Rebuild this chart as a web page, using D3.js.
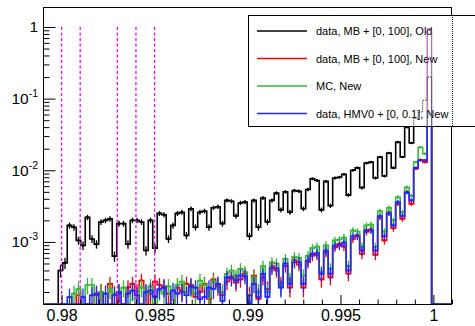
<!DOCTYPE html>
<html><head><meta charset="utf-8">
<script src="https://cdn.jsdelivr.net/npm/d3@7"></script>
<style>body{margin:0;background:#fff}svg{display:block}</style>
</head><body><svg id="c" width="475" height="326"></svg>
<script>
// ---- data ----
const binStart = 0.97982;
const binWidth = 0.000242;
const black = [
 4.0e-4,5.1e-4,1.7e-3,1.6e-3,1.05e-3,8.9e-4,2.2e-3,1.1e-3,9.3e-4,1.9e-3,
 2.0e-3,2.1e-3,6.3e-4,1.8e-3,1.8e-3,9.3e-4,2.0e-3,2.0e-3,1.9e-3,7.6e-4,
 2.0e-3,8.2e-4,2.5e-3,2.4e-3,1.1e-3,1.7e-3,2.5e-3,2.6e-3,1.23e-3,2.9e-3,
 1.6e-3,2.6e-3,2.7e-3,1.6e-3,3.0e-3,3.1e-3,1.8e-3,3.8e-3,3.7e-3,2.3e-3,
 3.5e-3,3.6e-3,1.2e-3,3.8e-3,1.6e-3,4.1e-3,1.9e-3,3.8e-3,4.8e-3,2.8e-3,
 5.0e-3,2.6e-3,5.2e-3,5.1e-3,2.9e-3,5.4e-3,7.6e-3,7.2e-3,2.8e-3,7.0e-3,
 3.2e-3,7.8e-3,8.0e-3,8.8e-3,4.5e-3,1.0e-2,1.08e-2,5.7e-3,1.26e-2,1.3e-2,
 7.8e-3,1.53e-2,8.3e-3,1.74e-2,1.08e-2,2.47e-2,1.53e-2,4.0e-2,2.4e-2,5.3e-2,
 6.5e-2,9.5e-2,0.20];
const red = [
 0,0,0,0,1.8e-4,0,0,0,1.8e-4,2.0e-4,
 0,2.6e-4,0,1.9e-4,0,2.3e-4,2.6e-4,2.0e-4,2.9e-4,0,
 1.9e-4,2.8e-4,2.5e-4,2.4e-4,1.9e-4,0,2.3e-4,2.1e-4,2.6e-4,2.5e-4,
 1.7e-4,2.0e-4,2.6e-4,1.6e-4,3.0e-4,2.4e-4,1.8e-4,2.8e-4,3.3e-4,2.7e-4,
 3.0e-4,3.6e-4,1.8e-4,3.4e-4,1.6e-4,3.2e-4,2.2e-4,4.6e-4,4.0e-4,2.6e-4,
 4.6e-4,2.3e-4,5.6e-4,4.8e-4,2.3e-4,5.2e-4,6.4e-4,6.6e-4,3.0e-4,7.2e-4,
 3.2e-4,8.4e-4,9.4e-4,8.6e-4,3.6e-4,1.1e-3,1.25e-3,6.8e-4,1.38e-3,1.5e-3,
 6.6e-4,2.2e-3,1.05e-3,2.6e-3,1.55e-3,3.4e-3,2.1e-3,5.0e-3,3.4e-3,1.05e-2,
 1.4e-2,1.3e-2,0.9];
const green = [
 0,0,0,1.9e-4,2.2e-4,0,2.5e-4,2.5e-4,0,2.0e-4,
 0,2.2e-4,1.9e-4,2.0e-4,2.3e-4,0,2.1e-4,0,2.3e-4,1.9e-4,
 2.4e-4,0,2.1e-4,1.9e-4,2.4e-4,0,2.5e-4,2.8e-4,2.0e-4,2.3e-4,
 1.9e-4,2.9e-4,2.5e-4,1.7e-4,2.8e-4,2.6e-4,2.0e-4,3.6e-4,4.0e-4,3.3e-4,
 4.2e-4,3.8e-4,1.5e-4,3.2e-4,2.0e-4,4.6e-4,2.0e-4,5.2e-4,5.0e-4,2.4e-4,
 5.8e-4,3.0e-4,6.2e-4,6.0e-4,3.4e-4,6.4e-4,8.2e-4,8.6e-4,3.8e-4,9.0e-4,
 4.2e-4,1.05e-3,1.08e-3,1.15e-3,4.6e-4,1.45e-3,1.4e-3,8.6e-4,1.7e-3,1.75e-3,
 8.6e-4,2.7e-3,1.4e-3,3.0e-3,2.0e-3,4.2e-3,2.6e-3,5.8e-3,4.4e-3,1.3e-2,
 2.1e-2,1.7e-2,6.0e-2];
const blue = [
 0,0,1.7e-4,0,0,1.7e-4,0,1.8e-4,1.9e-4,0,
 1.9e-4,0,1.8e-4,2.0e-4,0,1.9e-4,2.1e-4,1.8e-4,0,2.0e-4,
 2.1e-4,1.7e-4,2.2e-4,2.3e-4,0,2.1e-4,1.9e-4,2.0e-4,1.8e-4,2.4e-4,
 2.3e-4,1.6e-4,1.7e-4,2.3e-4,2.2e-4,2.6e-4,1.5e-4,3.2e-4,3.1e-4,2.9e-4,
 3.4e-4,3.3e-4,1.4e-4,2.6e-4,1.7e-4,3.6e-4,1.7e-4,4.3e-4,4.3e-4,2.3e-4,
 5.0e-4,2.6e-4,5.2e-4,5.2e-4,2.6e-4,5.5e-4,6.8e-4,7.0e-4,3.6e-4,7.6e-4,
 3.6e-4,8.9e-4,8.9e-4,9.8e-4,4.0e-4,1.2e-3,1.2e-3,7.6e-4,1.45e-3,1.45e-3,
 7.6e-4,2.3e-3,1.2e-3,2.5e-3,1.7e-3,3.6e-3,2.3e-3,4.9e-3,3.8e-3,1.08e-2,
 1.38e-2,1.38e-2,0.95];
const entries = 60000;
const seriesNames = ["data, MB + [0, 100], Old","data, MB + [0, 100], New","MC, New","data, HMV0 + [0, 0.1], New"];
const seriesColors = ["#000000","#ff0000","#33bb33","#2626ff"];
const cutLines = [0.980,0.981,0.983,0.984,0.985];
const xTicks = [0.98,0.985,0.99,0.995,1];
const xTickLabels = ["0.98","0.985","0.99","0.995","1"];
const yTicks = [1e-3,1e-2,1e-1,1];
const yTickBase = ["10","10","10","1"];
const yTickExp = ["-3","-2","-1",""];

// ---- layout ----
const L=43,T=7,R=452,B=304;
const svg=d3.select("#c");
const font="'Liberation Sans', Arial, Helvetica, sans-serif";
const xMin=0.979,xMax=1.001,yMin=1.36e-4,yMax=1.9;
const x=d3.scaleLinear().domain([xMin,xMax]).range([L,R]);
const y=d3.scaleLog().domain([yMin,yMax]).range([B,T]);

svg.append("defs").html(
 `<clipPath id="plot"><rect x="${L}" y="${T}" width="${R-L}" height="${B-T}"/></clipPath>`+
 `<clipPath id="leg"><rect x="248.5" y="15.5" width="240" height="111"/></clipPath>`);

const data=[black,red,green,blue];
function yv(v){return v>yMin? y(v): y(yMin);}
function histPoints(vals){
  const pts=[[x(xMin),y(yMin)],[x(binStart),y(yMin)]];
  vals.forEach((v,i)=>{
    const a=binStart+i*binWidth,b=a+binWidth;
    pts.push([x(a),yv(v)],[x(b),yv(v)]);
  });
  const end=binStart+vals.length*binWidth;
  pts.push([x(end),y(yMin)],[x(xMax),y(yMin)]);
  return pts;
}
const line=d3.line();
const plot=svg.append("g").attr("clip-path","url(#plot)");
data.forEach((vals,si)=>{
  const g=plot.append("g");
  g.append("path").attr("d",line(histPoints(vals))).attr("fill","none")
   .attr("stroke",seriesColors[si]).attr("stroke-width",1.6);
  vals.forEach((v,i)=>{
    if(v<=0) return;
    const c=binStart+(i+0.5)*binWidth;
    const e=Math.sqrt(v/entries);
    g.append("line").attr("x1",x(c)).attr("x2",x(c))
     .attr("y1",yv(v+e)).attr("y2",v-e>yMin?y(v-e):y(yMin)+2)
     .attr("stroke",seriesColors[si]).attr("stroke-width",1.3);
    g.append("circle").attr("cx",x(c)).attr("cy",yv(v)).attr("r",1.3).attr("fill",seriesColors[si]);
  });
});
// cut lines
plot.selectAll(".cut").data(cutLines).enter().append("line")
 .attr("x1",d=>x(d)).attr("x2",d=>x(d)).attr("y1",y(1)).attr("y2",B)
 .attr("stroke","#ff00ff").attr("stroke-width",1.3).attr("stroke-dasharray","3,2.5");

// frame
svg.append("rect").attr("x",L+0.5).attr("y",T+0.5).attr("width",R-L-1).attr("height",B-T)
 .attr("fill","none").attr("stroke","#000").attr("stroke-width",1);

// x axis
const xMinor=d3.range(0,23).map(i=>+(0.979+i*0.001).toFixed(4)).filter(v=>!xTicks.some(t=>Math.abs(t-v)<1e-9));
const xa=svg.append("g").attr("transform",`translate(0,${B})`);
xa.call(d3.axisBottom(x).tickValues(xTicks).tickSize(-9).tickSizeOuter(0).tickFormat((d,i)=>xTickLabels[i]));
xa.select(".domain").remove();
xa.selectAll("text").attr("font-family",font).attr("font-size",16).attr("fill","#000").attr("dy",0).attr("y",17);
xa.selectAll("line").attr("stroke","#000");
const xm=svg.append("g").attr("transform",`translate(0,${B})`);
xm.call(d3.axisBottom(x).tickValues(xMinor).tickSize(-4.5).tickSizeOuter(0).tickFormat(""));
xm.select(".domain").remove(); xm.selectAll("line").attr("stroke","#000");

// y axis
const yMinor=[];
[1e-4,1e-3,1e-2,1e-1,1].forEach(d=>{for(let m=2;m<=9;m++){const v=m*d; if(v>yMin&&v<yMax) yMinor.push(v);}});
const ya=svg.append("g").attr("transform",`translate(${L},0)`);
ya.call(d3.axisLeft(y).tickValues(yTicks).tickSize(-12.5).tickSizeOuter(0).tickFormat(""));
ya.select(".domain").remove(); ya.selectAll("line").attr("stroke","#000");
const ym=svg.append("g").attr("transform",`translate(${L},0)`);
ym.call(d3.axisLeft(y).tickValues(yMinor).tickSize(-6.5).tickSizeOuter(0).tickFormat(""));
ym.select(".domain").remove(); ym.selectAll("line").attr("stroke","#000");
yTicks.forEach((v,i)=>{
  const t=svg.append("text").attr("x",38).attr("y",y(v)+5.5).attr("text-anchor","end")
   .attr("font-family",font).attr("font-size",15.5).attr("fill","#000");
  t.append("tspan").text(yTickBase[i]);
  if(yTickExp[i]) t.append("tspan").attr("font-size",10.5).attr("dy",-7).text(yTickExp[i]);
});

// legend
const lg=svg.append("g");
lg.append("rect").attr("x",248.5).attr("y",15.5).attr("width",240).attr("height",111)
 .attr("fill","#fff").attr("stroke","#000").attr("stroke-width",1);
const rowY=[31,58.5,86,113.5];
seriesNames.forEach((n,i)=>{
  lg.append("line").attr("x1",257).attr("x2",307).attr("y1",rowY[i]).attr("y2",rowY[i])
   .attr("stroke",seriesColors[i]).attr("stroke-width",1.3);
  lg.append("text").attr("x",316).attr("y",rowY[i]+4).attr("font-family",font)
   .attr("font-size",11).attr("fill","#000").text(n);
});
// histogram lines showing through the legend as dotted traces
const ov=svg.append("g").attr("clip-path","url(#leg)");
data.forEach((vals,si)=>{
  ov.append("path").attr("d",line(histPoints(vals))).attr("fill","none")
   .attr("stroke",seriesColors[si]).attr("stroke-width",0.9).attr("stroke-dasharray","1,1");
});
ov.append("line").attr("x1",R+0.5).attr("x2",R+0.5).attr("y1",T).attr("y2",B)
 .attr("stroke","#000").attr("stroke-width",0.9).attr("stroke-dasharray","1,1");
</script></body></html>
